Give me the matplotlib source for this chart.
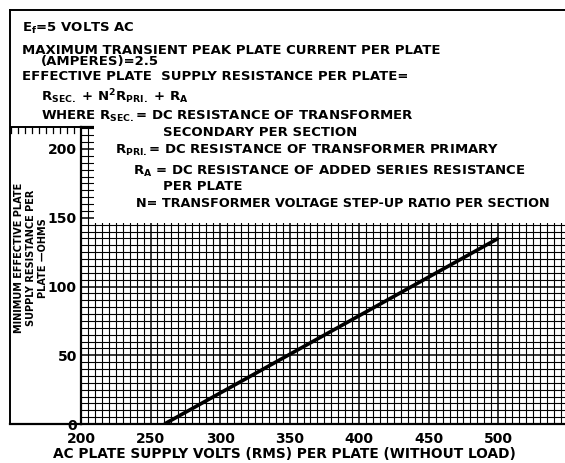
import numpy as np
import matplotlib
matplotlib.use("Agg")
import matplotlib.pyplot as plt
from matplotlib.patches import Rectangle
from matplotlib.lines import Line2D

plt.rcParams['font.family'] = ['DejaVu Sans']
plt.rcParams['font.weight'] = 'bold'
plt.rcParams['mathtext.fontset'] = 'dejavusans'
plt.rcParams['mathtext.default'] = 'bf'

# ---- data ----
volts = [260, 500]          # AC plate supply volts (RMS) per plate
resistance = [0, 135]       # minimum effective plate supply resistance (ohms)
x_ticks = [200, 250, 300, 350, 400, 450, 500]
y_ticks = [0, 50, 100, 150, 200]
x_label = "AC PLATE SUPPLY VOLTS (RMS) PER PLATE (WITHOUT LOAD)"
y_label = "MINIMUM EFFECTIVE PLATE\nSUPPLY RESISTANCE PER\nPLATE \u2014OHMS"
notes = [
    (22, 28, r'$E_f$=5 VOLTS AC', 9.5),
    (22, 50, 'MAXIMUM TRANSIENT PEAK PLATE CURRENT PER PLATE', 9.5),
    (41, 62, '(AMPERES)=2.5', 9.5),
    (22, 77, 'EFFECTIVE PLATE  SUPPLY RESISTANCE PER PLATE=', 9.5),
    (41, 97, r'$R_{SEC.}$ + $N^2R_{PRI.}$ + $R_A$', 9.5),
    (41, 116, r'WHERE $R_{SEC.}$= DC RESISTANCE OF TRANSFORMER', 9.5),
    (163, 132, 'SECONDARY PER SECTION', 9.5),
    (115, 150, r'$R_{PRI.}$= DC RESISTANCE OF TRANSFORMER PRIMARY', 9.5),
    (133, 171, r'$R_A$ = DC RESISTANCE OF ADDED SERIES RESISTANCE', 9.5),
    (163, 187, 'PER PLATE', 9.5),
    (136, 204, 'N= TRANSFORMER VOLTAGE STEP-UP RATIO PER SECTION', 9.2),
]

W, H = 565, 463
fig = plt.figure(figsize=(W / 100, H / 100), dpi=100)
fig.patch.set_facecolor('white')

ax_l, ax_b, ax_t = 81, 424, 127
ax = fig.add_axes([ax_l / W, 1 - ax_b / H, (W - ax_l) / W, (ax_b - ax_t) / H])
ax.set_xlim(200, 548)
ax.set_ylim(0, 216)

ax.set_xticks(x_ticks)
ax.set_yticks(y_ticks)
ax.set_xticks(np.arange(200, 549, 5), minor=True)
ax.set_yticks(np.arange(0, 217, 5), minor=True)
ax.tick_params(which='both', length=0)
ax.tick_params(axis='x', pad=6, labelsize=10)
ax.tick_params(axis='y', pad=3, labelsize=10)
for lab in ax.get_xticklabels() + ax.get_yticklabels():
    lab.set_fontweight('bold')
ax.set_axisbelow(True)
ax.grid(which='minor', color='black', lw=0.8)
ax.grid(which='major', color='black', lw=1.1)
for s in ['left', 'bottom', 'top']:
    ax.spines[s].set_linewidth(1.6)
ax.spines['right'].set_visible(False)

# white label box over upper grid
ax.add_patch(Rectangle((209.0, 146.5), 400, 80, facecolor='white',
                       edgecolor='none', zorder=2.6, clip_on=False))

# grid strip continuing left at top
ax.plot([150, 200], [216, 216], color='black', lw=1.4, clip_on=False, zorder=3)
for xv in np.arange(150, 200, 5):
    ax.plot([xv, xv], [216, 212], color='black', lw=0.9, clip_on=False, zorder=3)

ax.plot(volts, resistance, color='black', lw=2.6, solid_capstyle='butt', zorder=3)

# outer frame
def fl(x0, y0, x1, y1, lw=1.4):
    fig.add_artist(Line2D([x0 / W, x1 / W], [1 - y0 / H, 1 - y1 / H],
                          color='black', lw=lw, transform=fig.transFigure))
fl(10, 10, W, 10)
fl(10, 10, 10, 424)
fl(10, 424, 81, 424, lw=1.6)

for (px, py, s, fs) in notes:
    fig.text(px / W, 1 - py / H, s, ha='left', va='center',
             fontsize=fs, fontweight='bold', zorder=5)

fig.text(284 / W, 1 - 454 / H, x_label, ha='center', va='center',
         fontsize=9.9, fontweight='bold')
fig.text(31 / W, 1 - 258 / H, y_label, ha='center', va='center', rotation=90,
         fontsize=7.0, fontweight='bold', linespacing=1.2, multialignment='center')

fig.savefig('out.png', dpi=100, facecolor='white')
